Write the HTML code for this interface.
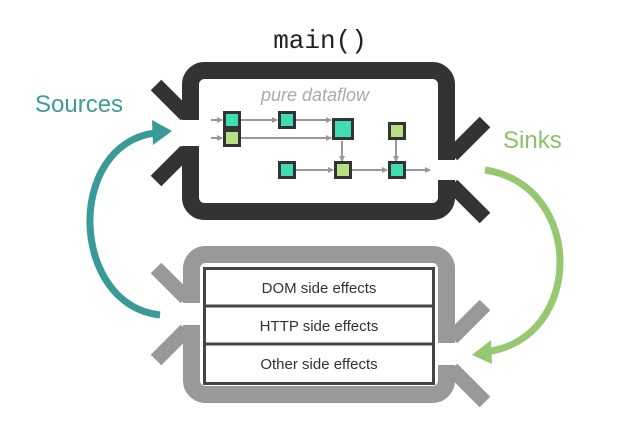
<!DOCTYPE html>
<html><head><meta charset="utf-8"><style>
html,body{margin:0;padding:0;background:#fff;}
svg{display:block;}
</style></head><body>
<svg width="640" height="433" viewBox="0 0 640 433" xmlns="http://www.w3.org/2000/svg">
<defs>
<marker id="ga" markerWidth="6" markerHeight="6" refX="5" refY="3" orient="auto" markerUnits="userSpaceOnUse"><path d="M0,0 L6,3 L0,6 z" fill="#999"/></marker>
</defs>
<!-- top box -->
<rect x="190.5" y="70.5" width="256" height="141" rx="14" fill="#fff" stroke="#333" stroke-width="17"/>
<rect x="178" y="120" width="26" height="26" fill="#fff"/>
<rect x="434" y="160" width="26" height="20" fill="#fff"/>
<g stroke="#333" stroke-width="15" stroke-linecap="butt">
<line x1="156" y1="85" x2="186" y2="115"/>
<line x1="156" y1="181" x2="186" y2="151"/>
<line x1="485" y1="122" x2="452" y2="155"/>
<line x1="485" y1="218" x2="452" y2="185"/>
</g>
<text x="320" y="48" text-anchor="middle" font-family="Liberation Mono, monospace" font-size="26" fill="#222">main()</text>
<text x="315" y="101" text-anchor="middle" font-family="Liberation Sans, sans-serif" font-style="italic" font-size="18" fill="#aaa">pure dataflow</text>
<!-- connectors -->
<g stroke="#999" stroke-width="2" fill="none" marker-end="url(#ga)">
<line x1="211" y1="120" x2="222" y2="120"/>
<line x1="211" y1="138" x2="222" y2="138"/>
<line x1="241" y1="120" x2="277" y2="120"/>
<line x1="296" y1="120" x2="331" y2="120"/>
<line x1="241" y1="138" x2="331" y2="138"/>
<line x1="342" y1="141" x2="342" y2="161"/>
<line x1="396" y1="140" x2="396" y2="161"/>
<line x1="296" y1="170" x2="333" y2="170"/>
<line x1="352" y1="170" x2="387" y2="170"/>
<line x1="406" y1="170" x2="430" y2="170"/>
</g>
<g stroke="#333" stroke-width="3">
<rect x="224.5" y="112.5" width="15" height="15" fill="#40dcb4"/>
<rect x="224.5" y="130.5" width="15" height="15" fill="#b8df82"/>
<rect x="279.5" y="112.5" width="15" height="15" fill="#40dcb4"/>
<rect x="333.5" y="119.5" width="19" height="19" fill="#40dcb4"/>
<rect x="389.5" y="123.5" width="15" height="15" fill="#b8df82"/>
<rect x="279.5" y="162.5" width="15" height="15" fill="#40dcb4"/>
<rect x="335.5" y="162.5" width="15" height="15" fill="#b8df82"/>
<rect x="389.5" y="162.5" width="15" height="15" fill="#40dcb4"/>
</g>
<!-- bottom box -->
<rect x="191.5" y="254.5" width="255" height="140" rx="14" fill="#fff" stroke="#999" stroke-width="17"/>
<rect x="178" y="303" width="26" height="22" fill="#fff"/>
<rect x="434" y="343" width="26" height="22" fill="#fff"/>
<g stroke="#999" stroke-width="15">
<line x1="156" y1="268" x2="186" y2="298"/>
<line x1="156" y1="360" x2="186" y2="330"/>
<line x1="485" y1="305" x2="452" y2="338"/>
<line x1="485" y1="402" x2="452" y2="369"/>
</g>
<g stroke="#444" stroke-width="3" fill="#fff">
<rect x="204.5" y="268.5" width="229" height="115"/>
<line x1="204" y1="306" x2="434" y2="306"/>
<line x1="204" y1="344" x2="434" y2="344"/>
</g>
<g font-family="Liberation Sans, sans-serif" font-size="15" fill="#333" text-anchor="middle">
<text x="319" y="293">DOM side effects</text>
<text x="319" y="331">HTTP side effects</text>
<text x="319" y="369">Other side effects</text>
</g>
<!-- labels -->
<text x="35" y="112" font-family="Liberation Sans, sans-serif" font-size="24" fill="#3a9c98">Sources</text>
<text x="503" y="148" font-family="Liberation Sans, sans-serif" font-size="24" fill="#8cc06a">Sinks</text>
<!-- arcs -->
<path d="M160,315 C70,305 65,145 155,133" stroke="#3a9a98" stroke-width="7" fill="none"/>
<path d="M152,120 L172,131 L153,145 z" fill="#3a9a98"/>
<path d="M485,170 C585,185 585,340 485,352" stroke="#95c870" stroke-width="7" fill="none"/>
<path d="M491,340 L472,355 L492,364 z" fill="#95c870"/>
</svg>
</body></html>
